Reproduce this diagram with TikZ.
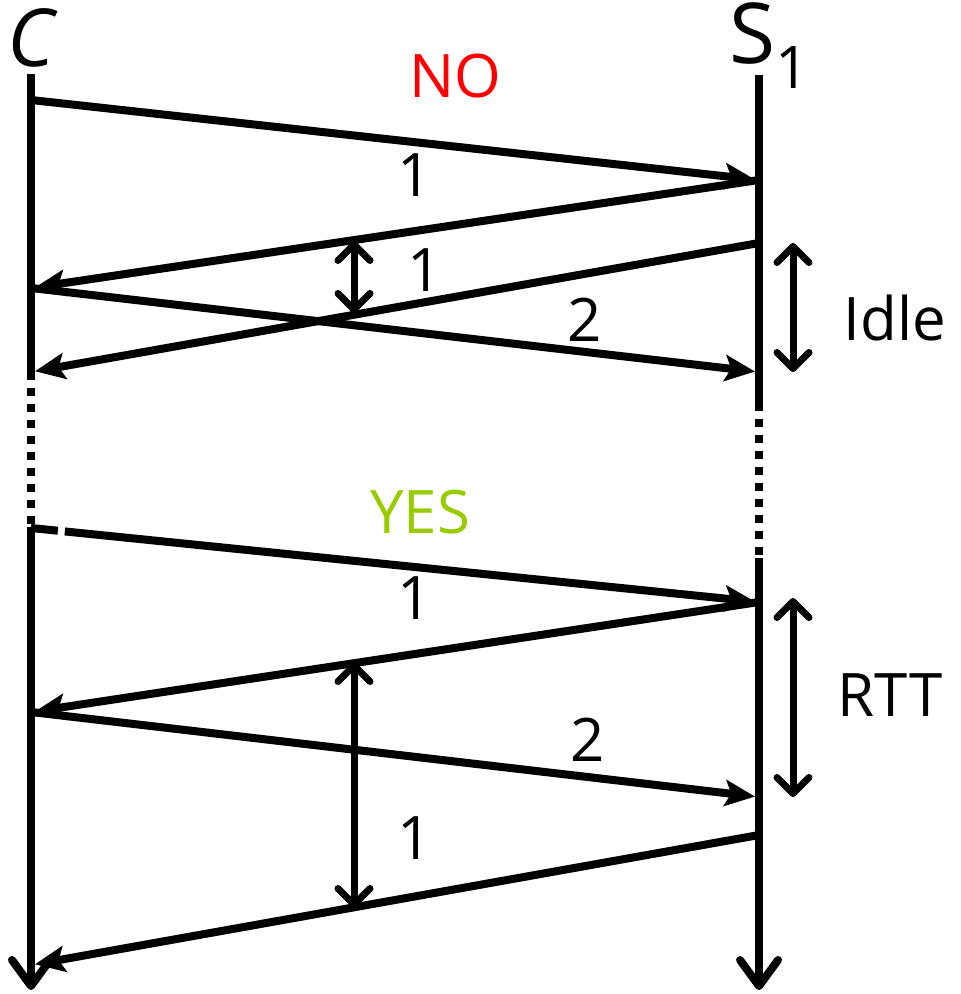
\documentclass[tikz,border=0pt]{standalone}
\usepackage{fontspec}
\setmainfont{Open Sans}
\usetikzlibrary{arrows.meta}
\definecolor{yesgreen}{HTML}{99CC00}
\tikzset{every node/.style={inner sep=0pt,font=\fontsize{30}{36}\selectfont},
  life/.style={line width=4pt},
  gap/.style={line width=4pt,dash pattern=on 4pt off 4pt},
  msg/.style={line width=4pt,shorten >=2pt,-{Stealth[length=15pt,width=13pt,inset=3pt]}},
  span/.style={line width=3.5pt,{Straight Barb[round,length=8pt,width=16pt]}-{Straight Barb[round,length=8pt,width=16pt]}}}

\begin{document}
\begin{tikzpicture}[x=0.5pt,y=-0.5pt]
      \useasboundingbox (0,0) rectangle (961,994);

      \node (C) at (31,38) {\fontsize{40}{40}\selectfont\itshape C};
      \node (S) at (770,46) {\fontsize{42}{42}\selectfont S\textsubscript{1}};

      % time lines
      \coordinate (c0) at (31,74);
      \coordinate (c1) at (31,372);
      \coordinate (c2) at (31,527);
      \coordinate (c3) at (31,990);
      \coordinate (s0) at (759,75);
      \coordinate (s1) at (759,403);
      \coordinate (s2) at (759,558);
      \coordinate (s3) at (759,990);

      \draw[life] (c0) -- (c1);
      \draw[gap] (c1) -- (c2);
      \draw[life,-{Straight Barb[round,length=13pt,width=19pt]}] (c2) -- (c3);
      \draw[life] (s0) -- (s1);
      \draw[gap] (s1) -- (s2);
      \draw[life,-{Straight Barb[round,length=13pt,width=19pt]}] (s2) -- (s3);

      % first round
      \coordinate (a1) at (31,100);
      \coordinate (a2) at (31,288);
      \coordinate (a3) at (31,372);
      \coordinate (b1) at (759,180);
      \coordinate (b2) at (759,243);
      \coordinate (b3) at (759,372);

      \node[text=red] (no) at (455,76) {NO};
      \draw[msg] (a1) -- (b1);
      \draw[msg] (b1) -- (a2);
      \draw[msg] (b2) -- (a3);
      \draw[msg] (a2) -- (b3);
      \node (m1) at (415,175) {1};
      \node (m2) at (425,270) {1};
      \node (m3) at (585,320) {2};

      \coordinate (d1) at (354,241);
      \coordinate (d2) at (354,313);
      \draw[span] (d1) -- (d2);
      \coordinate (i1) at (793,243);
      \coordinate (i2) at (793,372);
      \draw[span] (i1) -- (i2);
      \node (idle) at (895,318) {Idle};

      % second round
      \coordinate (a4) at (31,528);
      \coordinate (a5) at (31,712);
      \coordinate (a6) at (31,965);
      \coordinate (b4) at (759,602);
      \coordinate (b5) at (759,797);
      \coordinate (b6) at (759,835);

      \node[text=yesgreen] (yes) at (420,512) {YES};
      \draw[msg,dash pattern=on 13.5pt off 3.5pt on 500pt] (a4) -- (b4);
      \draw[msg] (b4) -- (a5);
      \draw[msg] (a5) -- (b5);
      \draw[msg] (b6) -- (a6);
      \node (m4) at (415,598) {1};
      \node (m5) at (588,740) {2};
      \node (m6) at (415,838) {1};

      \coordinate (l1) at (354,662);
      \coordinate (l2) at (354,908);
      \draw[span] (l1) -- (l2);
      \coordinate (r1) at (793,598);
      \coordinate (r2) at (793,797);
      \draw[span] (r1) -- (r2);
      \node (rtt) at (890,695) {RTT};
\end{tikzpicture}
\end{document}
